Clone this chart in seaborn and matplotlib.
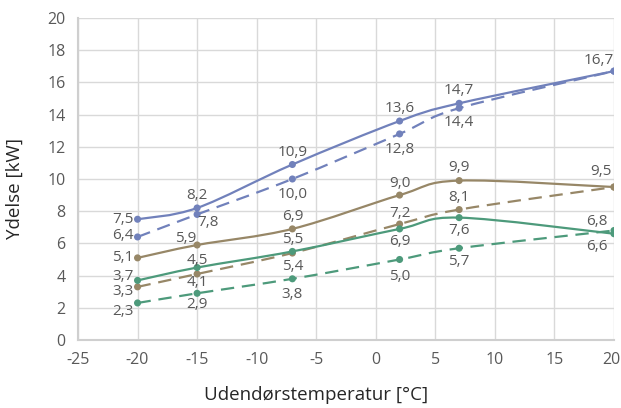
import numpy as np
import pandas as pd
import matplotlib
matplotlib.use("Agg")
import matplotlib.pyplot as plt
from matplotlib.path import Path
from matplotlib.patches import PathPatch
from matplotlib.transforms import ScaledTranslation
import seaborn as sns

# data
temps = [-20, -15, -7, 2, 7, 20]
blue_solid = [7.5, 8.2, 10.9, 13.6, 14.7, 16.7]
blue_dashed = [6.4, 7.8, 10.0, 12.8, 14.4, 16.7]
brown_solid = [5.1, 5.9, 6.9, 9.0, 9.9, 9.5]
brown_dashed = [3.3, 4.1, 5.4, 7.2, 8.1, 9.5]
green_solid = [3.7, 4.5, 5.5, 6.9, 7.6, 6.6]
green_dashed = [2.3, 2.9, 3.8, 5.0, 5.7, 6.8]

x_ticks = list(range(-25, 21, 5))
y_ticks = list(range(0, 21, 2))

blue = "#7181bb"
brown = "#978767"
green = "#4d9a7b"
text_col = "#595959"
grid_col = "#d9d9d9"
dash = (0, (6, 3.5))

series = [
    ("blue_solid", blue_solid, blue, "-"),
    ("blue_dashed", blue_dashed, blue, dash),
    ("brown_solid", brown_solid, brown, "-"),
    ("brown_dashed", brown_dashed, brown, dash),
    ("green_solid", green_solid, green, "-"),
    ("green_dashed", green_dashed, green, dash),
]

# label offsets in pixels (dx, dy up, ha); None = label hidden behind another
R = "right"
C = "center"
label_pos = {
    "blue_solid": [(-4, 0, R), (0, 12.7, C), (0, 12, C), (0, 12.7, C), (0, 13.3, C), (-15.7, 11, C)],
    "blue_dashed": [(-4, 1, R), (11, -8, C), (0, -15.7, C), (0, -16, C), (0, -14.3, C), None],
    "brown_solid": [(-4, 0, R), (-11, 6.3, C), (0, 12.6, C), (0, 11.7, C), (0, 12.7, C), (-13.3, 15.7, C)],
    "brown_dashed": [(-4, -5, R), (0, -8.4, C), (0, -13.5, C), (0, 11, C), (0, 11.7, C), None],
    "green_solid": [(-4, 4, R), (0, 7.3, C), (0, 11.7, C), (0, -12.7, C), (0, -13.3, C), (-16.7, -13, C)],
    "green_dashed": [(-4, -8.4, R), (0, -11.3, C), (0, -15.7, C), (0, -17, C), (0, -13.3, C), (-16.7, 9.3, C)],
}

sns.set_style("white")
plt.rcParams["font.family"] = ["Open Sans", "DejaVu Sans"]
plt.rcParams["axes.unicode_minus"] = False

fig = plt.figure(figsize=(6.21, 4.08), dpi=100)
ax = fig.add_axes([0.1256, 0.1667, 0.8631, 0.7892])


def smooth_path(xs, ys):
    # cardinal spline as cubic bezier, like spreadsheet smoothed lines
    pts = np.column_stack([xs, ys]).astype(float)
    n = len(pts)
    verts = [pts[0]]
    codes = [Path.MOVETO]
    for i in range(n - 1):
        p0 = pts[max(i - 1, 0)]
        p1 = pts[i]
        p2 = pts[i + 1]
        p3 = pts[min(i + 2, n - 1)]
        verts += [p1 + (p2 - p0) / 6, p2 - (p3 - p1) / 6, p2]
        codes += [Path.CURVE4] * 3
    return Path(verts, codes)


rows = []
for name, vals, col, ls in series:
    ax.add_patch(PathPatch(smooth_path(temps, vals), fill=False, edgecolor=col,
                           lw=1.6, linestyle=ls, capstyle="butt", zorder=3))
    for t, v in zip(temps, vals):
        rows.append({"temp": t, "kw": v, "series": name})

df = pd.DataFrame(rows)
sns.scatterplot(data=df, x="temp", y="kw", hue="series",
                palette={n: c for n, _, c, _ in series},
                s=26, edgecolor="none", legend=False, zorder=4, ax=ax)

for name, vals, col, ls in series:
    for t, v, pos in zip(temps, vals, label_pos[name]):
        if pos is None:
            continue
        dx, dy, ha = pos
        ax.annotate(f"{v:.1f}".replace(".", ","), (t, v),
                    xytext=(dx * 0.72, dy * 0.72), textcoords="offset points",
                    ha=ha, va="center", fontsize=11, color=text_col, zorder=5)

ax.set_xlim(-25, 20)
ax.set_ylim(0, 20)
ax.set_xticks(x_ticks)
ax.set_yticks(y_ticks)
ax.grid(True, color=grid_col, lw=1)
ax.set_axisbelow(True)
for s in ["top", "right"]:
    ax.spines[s].set_visible(False)
for s in ["left", "bottom"]:
    ax.spines[s].set_color("#cfcfcf")
    ax.spines[s].set_linewidth(1.5)
ax.tick_params(length=0, labelsize=11.5, labelcolor=text_col, pad=9)
ax.set_xlabel("Udendørstemperatur [°C]", fontsize=13.5, color="#262626", va="center")
ax.set_ylabel("Ydelse [kW]", fontsize=13.5, color="#262626", va="center")
ax.xaxis.set_label_coords(0.444, -0.171)
ax.yaxis.set_label_coords(-0.1175, 0.4705)

# keep the last x tick label inside the figure
last = ax.get_xticklabels()[-1]
last.set_transform(last.get_transform() + ScaledTranslation(-2.5 / 100, 0, fig.dpi_scale_trans))

fig.savefig("out.png", dpi=100)
